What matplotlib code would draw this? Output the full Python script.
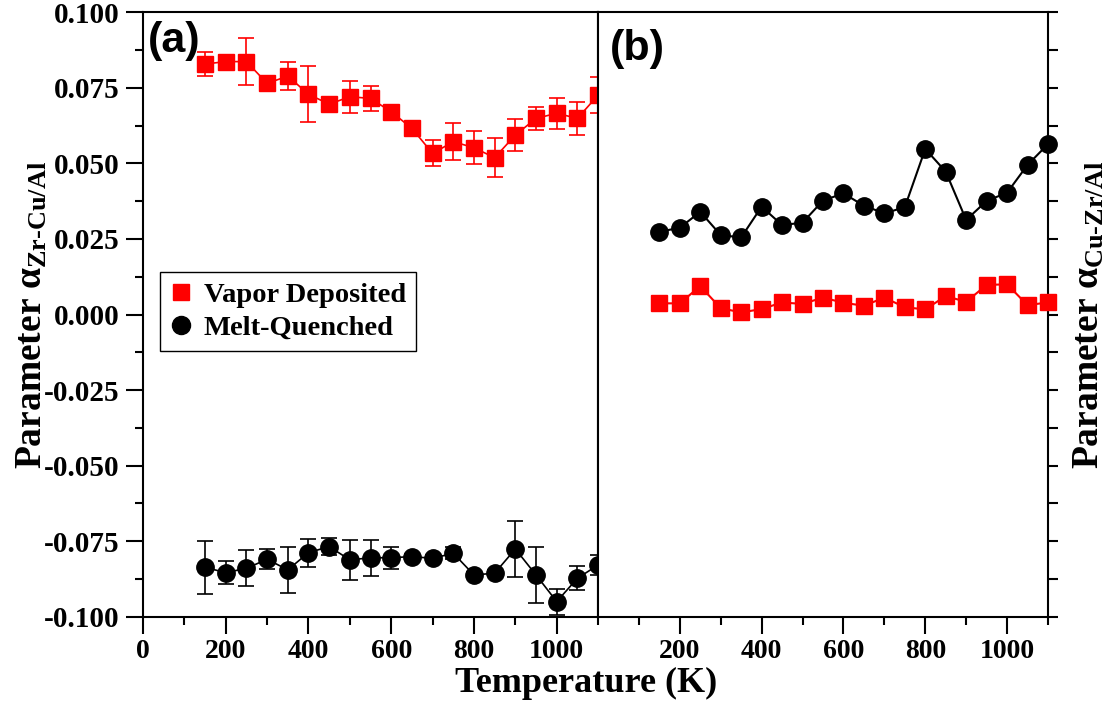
import matplotlib
matplotlib.use("Agg")
import matplotlib.pyplot as plt
from matplotlib.lines import Line2D
from matplotlib.ticker import MultipleLocator, FixedLocator, NullFormatter

plt.rcParams['font.family'] = ['Liberation Serif', 'DejaVu Serif']
plt.rcParams['font.weight'] = 'bold'
plt.rcParams['mathtext.fontset'] = 'custom'
plt.rcParams['mathtext.rm'] = 'Liberation Serif:bold'
plt.rcParams['mathtext.bf'] = 'Liberation Serif:bold'
plt.rcParams['mathtext.it'] = 'Liberation Serif:italic'
plt.rcParams['mathtext.sf'] = 'Liberation Serif'   # plain upright alpha

temps = [150, 200, 250, 300, 350, 400, 450, 500, 550, 600,
         650, 700, 750, 800, 850, 900, 950, 1000, 1050, 1100]

# panel (a): alpha Zr-Cu/Al
vd_a = [0.0829, 0.0837, 0.0837, 0.0765, 0.0789, 0.0729, 0.0696, 0.0721, 0.0715, 0.0671,
        0.0616, 0.0533, 0.0572, 0.0552, 0.0519, 0.0594, 0.0649, 0.0666, 0.0649, 0.0726]
vd_a_err = [0.0040, 0.0010, 0.0078, 0.0010, 0.0046, 0.0093, 0.0020, 0.0053, 0.0042, 0.0010,
            0.0010, 0.0043, 0.0062, 0.0054, 0.0065, 0.0052, 0.0037, 0.0052, 0.0055, 0.0060]
mq_a = [-0.0837, -0.0854, -0.0840, -0.0810, -0.0845, -0.0788, -0.0768, -0.0812, -0.0805, -0.0805,
        -0.0801, -0.0807, -0.0790, -0.0862, -0.0856, -0.0776, -0.0862, -0.0950, -0.0873, -0.0829]
mq_a_err = [0.0087, 0.0037, 0.0060, 0.0033, 0.0075, 0.0046, 0.0027, 0.0067, 0.0059, 0.0037,
            0.0010, 0.0010, 0.0020, 0.0010, 0.0010, 0.0094, 0.0092, 0.0043, 0.0040, 0.0033]

# panel (b): alpha Cu-Zr/Al
mq_b = [0.0274, 0.0287, 0.0340, 0.0263, 0.0255, 0.0357, 0.0296, 0.0304, 0.0377, 0.0401,
        0.0360, 0.0335, 0.0355, 0.0548, 0.0473, 0.0313, 0.0376, 0.0403, 0.0495, 0.0564]
vd_b = [0.0037, 0.0037, 0.0094, 0.0021, 0.0007, 0.0018, 0.0040, 0.0035, 0.0056, 0.0039,
        0.0029, 0.0056, 0.0024, 0.0017, 0.0061, 0.0042, 0.0098, 0.0100, 0.0031, 0.0040]

fig = plt.figure(figsize=(11.2, 7.06), dpi=100)
axa = fig.add_axes([0.1277, 0.1265, 0.4063, 0.856])
axb = fig.add_axes([0.5339, 0.1265, 0.4018, 0.856])

def errline(ax, y, err, color, marker, ms):
    cont = ax.errorbar(temps, y, yerr=err, color=color, marker=marker, ms=ms, lw=1.2,
                       elinewidth=1.2, capsize=6, capthick=1.2, zorder=3)
    for art in cont.lines[0:1] + tuple(cont.lines[1]) + tuple(cont.lines[2]):
        art.set_clip_on(False)

errline(axa, vd_a, vd_a_err, 'red', 's', 11.5)
errline(axa, mq_a, mq_a_err, 'black', 'o', 12.5)

axb.plot(temps, mq_b, color='black', marker='o', ms=12.5, lw=1.5, clip_on=False, zorder=3)
axb.plot(temps, vd_b, color='red', marker='s', ms=11.5, lw=1.5, clip_on=False, zorder=3)

for ax in (axa, axb):
    ax.set_xlim(0, 1100)
    ax.set_ylim(-0.1, 0.1)
    for sp in ax.spines.values():
        sp.set_linewidth(1.5)
    ax.tick_params(which='major', length=12, width=1.5)
    ax.tick_params(which='minor', length=6, width=1.5)
    ax.tick_params(axis='x', labelsize=20, pad=4)

axa.set_xticks([0, 200, 400, 600, 800, 1000])
axa.xaxis.set_minor_locator(FixedLocator([100, 300, 500, 700, 900, 1100]))
axa.set_yticks([-0.1, -0.075, -0.05, -0.025, 0.0, 0.025, 0.05, 0.075, 0.1])
axa.set_yticklabels(['-0.100', '-0.075', '-0.050', '-0.025', '0.000', '0.025', '0.050', '0.075', '0.100'])
axa.yaxis.set_minor_locator(MultipleLocator(0.0125))
axa.tick_params(axis='y', labelsize=21, pad=5)
axa.set_ylabel(r'$\text{Parameter }\mathsf{\alpha}_{\text{Zr-Cu/Al}}$', fontsize=27)
axa.yaxis.set_label_coords(-0.205, 0.5)

axb.set_xticks([200, 400, 600, 800, 1000])
axb.xaxis.set_minor_locator(FixedLocator([100, 300, 500, 700, 900, 1100]))
axb.yaxis.tick_right()
axb.yaxis.set_label_position('right')
axb.yaxis.set_major_locator(MultipleLocator(0.0125))
axb.yaxis.set_major_formatter(NullFormatter())
axb.tick_params(axis='y', which='major', length=7)
axb.set_ylabel(r'$\text{Parameter }\mathsf{\alpha}_{\text{Cu-Zr/Al}}$', fontsize=27)
axb.yaxis.set_label_coords(1.053, 0.5)

axa.text(0.011, 0.985, '(a)', transform=axa.transAxes, family='Liberation Sans',
         fontsize=31, fontweight='bold', va='top', ha='left')
axb.text(0.027, 0.972, '(b)', transform=axb.transAxes, family='Liberation Sans',
         fontsize=31, fontweight='bold', va='top', ha='left')

handles = [Line2D([], [], color='red', marker='s', ls='none', ms=12),
           Line2D([], [], color='black', marker='o', ls='none', ms=13)]
leg = axa.legend(handles, ['Vapor Deposited', 'Melt-Quenched'], loc='upper left',
                 bbox_to_anchor=(0.037, 0.570), borderaxespad=0, fancybox=False,
                 edgecolor='black', framealpha=1, fontsize=20.5, handlelength=0.8,
                 handletextpad=0.4, borderpad=0.35, labelspacing=0.25)
leg.get_frame().set_linewidth(1.0)

fig.text(0.523, 0.032, 'Temperature (K)', ha='center', va='center', fontsize=26, fontweight='bold')

fig.savefig('out.png', dpi=100)
